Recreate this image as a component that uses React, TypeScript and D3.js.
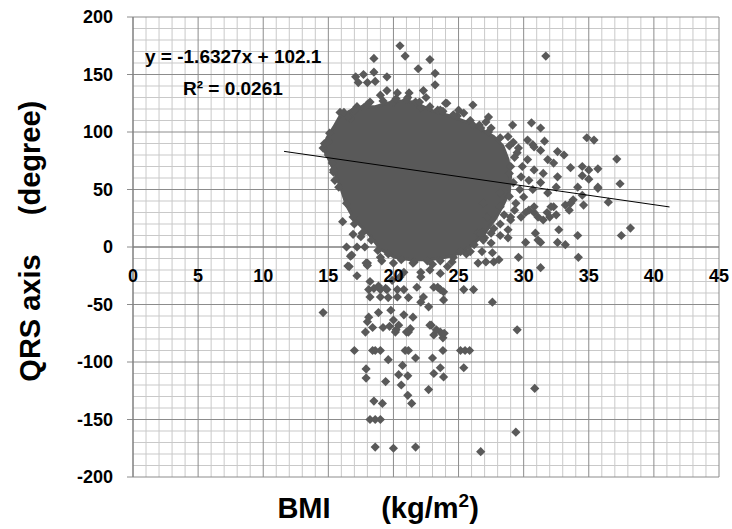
import React from 'react';
import * as d3 from 'd3';

const W = 732;
const H = 529;

const xTicks = [0, 5, 10, 15, 20, 25, 30, 35, 40, 45];
const yTicks = [-200, -150, -100, -50, 0, 50, 100, 150, 200];

const xTitle = 'BMI';
const xUnit = '(kg/m';
const yTitle = 'QRS axis';
const yUnit = '(degree)';
const equationText = 'y = -1.6327x + 102.1';
const r2Text = 'R² = 0.0261';

const trendSlope = -1.6327;
const trendIntercept = 102.1;
const trendRange = [11.6, 41.2];

// Outline of the solid, fully overlapping core of the point cloud [BMI, QRS]
const denseCore: [number, number][] = [
  [14.6, 86], [14.9, 95], [15.4, 104], [15.9, 114], [16.8, 119], [17.6, 122], [18.6, 122],
  [19.5, 125], [20.5, 127], [21.5, 126], [22.3, 122], [23.1, 118], [24.6, 113], [25.8, 108],
  [26.8, 102], [27.7, 96], [28.4, 88], [28.8, 76], [29.0, 62], [28.9, 48], [28.4, 36],
  [27.8, 24], [27.0, 12], [26.2, 3], [25.2, -5], [24.0, -9], [22.8, -11], [21.3, -11],
  [20.1, -9], [19.0, -2], [18.2, 10], [17.0, 24], [16.4, 36], [16.0, 50], [15.6, 62], [15.1, 75],
];

// Individually visible points [BMI, QRS]
const points: [number, number][] = [
  // above the core
  [20.5, 175], [20.9, 166], [18.5, 164], [22.8, 163], [21.9, 155], [18.5, 152], [23.2, 151],
  [17.1, 148], [17.7, 150], [19.5, 148], [18.0, 143], [18.6, 144], [17.3, 143], [23.2, 141],
  [22.3, 136], [19.5, 136], [20.3, 134], [21.2, 134], [22.5, 130], [21.7, 126], [22.1, 121],
  [23.4, 119], [15.9, 117], [16.7, 112], [17.7, 121], [24.0, 125], [23.6, 119], [16.2, 117],
  [16.5, 113], [31.7, 166], [17.2, 122], [19.0, 132], [21.1, 130], [20.0, 126], [18.2, 126],
  [16.9, 118],
  // ragged top edge of the core
  [17.0, 119], [18.0, 124], [19.2, 127], [20.2, 129], [21.0, 128], [22.0, 126], [22.8, 122],
  [23.8, 118], [24.9, 114], [25.9, 110], [26.6, 106], [27.3, 100],
  // left edge
  [14.6, 86], [15.3, 73], [15.4, 65], [15.5, 58], [16.1, 22], [16.9, 26], [16.9, 11],
  [17.5, 9], [16.4, 0], [17.2, 0], [16.8, -7], [17.8, 0], [18.0, -14], [16.5, -16.5],
  [19.0, -9], [15.0, 92], [15.2, 80], [17.6, 12], [17.0, 20], [16.4, 38], [15.8, 52],
  [15.4, 67], [15.0, 80], [18.3, 6], [18.8, -3], [14.7, 90], [15.1, 99],
  // ragged bottom edge of the core
  [19.6, -6], [20.6, -11], [21.6, -13], [22.6, -12], [23.6, -12], [24.6, -9], [25.6, -6],
  [19.1, -12], [20.0, -14], [23.0, -15], [24.5, -13], [26.2, 2], [27.0, 8],
  // below the axis
  [14.6, -57], [16.6, -17], [17.2, -25], [17.9, -14], [18.2, -30], [18.85, -34], [18.1, -37],
  [19.0, -37], [19.5, -37], [20.3, -37], [20.8, -37], [21.8, -35], [18.2, -43.5], [19.0, -43.5],
  [20.3, -43.5], [19.6, -44], [18.85, -57], [18.1, -61], [18.0, -65], [19.8, -55], [20.8, -59],
  [21.5, -61], [20.0, -63.5], [20.4, -68], [18.4, -70], [17.85, -74], [20.15, -74], [21.15, -74],
  [19.2, -70], [17.0, -90], [18.4, -90], [18.6, -90], [19.0, -90], [20.9, -90], [21.15, -90],
  [19.6, -98], [21.7, -96.5], [23.0, -96.5], [23.8, -90], [17.9, -106], [17.9, -114], [19.4, -117],
  [20.7, -103], [20.4, -111], [21.1, -112], [20.6, -120], [21.1, -129], [21.4, -136], [18.5, -134],
  [19.15, -136], [18.2, -150], [18.6, -150], [19.0, -150], [18.6, -174], [20.0, -175], [21.7, -174],
  [22.7, -124], [23.1, -110], [23.6, -105], [23.85, -113], [22.9, -68], [23.6, -74], [23.1, -76.5],
  [23.4, -35], [23.85, -46], [22.7, -52], [22.3, -43.5], [23.85, -39], [25.15, -90], [25.5, -90],
  [25.85, -90], [25.4, -105], [26.7, -178], [29.4, -161], [30.85, -123], [29.5, -72], [27.6, -48],
  [16.7, -8], [18.0, -16], [18.5, -36], [18.85, -35], [19.4, -36], [19.9, -29], [20.8, -22],
  [21.5, -14], [22.1, -22], [22.8, -20], [23.6, -23], [24.15, -17], [22.1, -48], [21.15, -44],
  [23.8, -79], [19.7, -69], [20.2, -72], [21.0, -74], [21.3, -71], [22.8, -68], [23.3, -72],
  [23.9, -75], [20.5, -26], [22.1, -26], [23.1, -35], [23.6, -37], [25.4, -37], [26.15, -37],
  // right of the core
  [26.5, -14], [27.1, -13], [25.9, -4], [25.15, -4], [26.8, -4], [27.6, -5], [27.7, -13],
  [28.1, -11], [29.6, -9], [31.3, -18], [34.2, -9], [26.9, 6], [27.5, 3.5], [28.2, 10],
  [28.8, 8], [30.15, 4], [31.1, 6], [31.3, 4], [32.6, 4], [33.2, 2], [34.15, 10], [32.7, 15],
  [30.9, 12], [26.5, 12], [26.9, 13], [28.8, 15], [29.0, 23.5], [29.8, 26], [30.4, 32],
  [30.8, 30], [31.8, 30], [32.3, 35], [33.2, 36.5], [33.8, 41], [34.5, 45], [34.6, 36.5],
  [36.5, 39], [37.5, 10], [38.2, 16.5], [35.7, 52], [37.4, 55],
  [24.1, 125], [24.6, 115], [25.0, 119], [25.4, 116.5], [26.1, 123.5], [27.3, 113], [27.1, 108.7],
  [27.5, 103.5], [26.1, 106], [26.7, 103.5], [29.15, 106], [30.6, 108], [31.3, 103.5], [28.2, 95],
  [28.8, 96], [29.2, 91], [30.3, 93], [30.7, 89], [31.6, 92], [34.85, 95], [35.4, 93],
  [37.15, 76.5], [33.6, 69], [34.5, 70], [35.0, 67], [35.7, 68], [33.1, 80], [32.6, 83],
  [31.85, 76], [32.3, 73], [31.3, 84], [30.8, 87], [34.5, 62], [35.0, 59], [35.7, 51],
  [34.15, 52], [33.6, 38], [33.5, 32], [32.1, 35], [32.5, 28], [32.0, 26], [30.7, 50],
  [31.3, 56], [31.85, 47], [32.5, 52], [30.8, 67], [31.5, 64], [32.6, 61], [29.5, 82],
  [30.3, 76], [29.0, 70], [29.8, 61], [29.2, 56], [30.0, 43.5], [30.8, 35], [30.15, 30],
  [31.1, 26], [31.5, 23.5], [29.4, 38], [29.0, 26], [28.2, 47], [28.2, 35], [26.9, 38],
  [27.2, 26], [26.7, 12], [27.5, 12],
  [28.9, 88], [29.6, 86], [29.3, 78], [29.9, 70], [28.9, 64], [30.4, 58], [29.7, 50],
  [28.9, 44], [29.3, 32], [28.5, 28], [28.2, 20], [27.7, 16],
];

const MARK = '#595959';
const FONT = '"Liberation Sans", Arial, Helvetica, sans-serif';

export default function App() {
  const x = d3.scaleLinear().domain([0, 45]).range([133, 719]);
  const y = d3.scaleLinear().domain([-200, 200]).range([477, 17]);

  const minorX = d3.range(0, 46, 1).filter((v) => v % 5 !== 0);
  const minorY = d3.range(-200, 201, 10).filter((v) => v % 50 !== 0);

  const coreLine = d3
    .line<[number, number]>()
    .x((d) => x(d[0]))
    .y((d) => y(d[1]))
    .curve(d3.curveLinearClosed);

  const r = 4.6;
  const diamond = `M0,${-r}L${r},0L0,${r}L${-r},0Z`;

  const t0 = trendRange[0];
  const t1 = trendRange[1];

  return (
    <svg
      width={W}
      height={H}
      style={{ position: 'absolute', left: 0, top: 0, background: '#fff' }}
      fontFamily={FONT}
    >
      <rect x={0} y={0} width={W} height={H} fill="#fff" />
      {/* minor grid */}
      <g stroke="#c9c9c9" strokeWidth={1}>
        {minorX.map((v) => (
          <line key={'mx' + v} x1={x(v)} x2={x(v)} y1={y(200)} y2={y(-200)} />
        ))}
        {minorY.map((v) => (
          <line key={'my' + v} x1={x(0)} x2={x(45)} y1={y(v)} y2={y(v)} />
        ))}
      </g>
      {/* major grid */}
      <g stroke="#8c8c8c" strokeWidth={1}>
        {xTicks.map((v) => (
          <line key={'Mx' + v} x1={x(v)} x2={x(v)} y1={y(200)} y2={y(-200)} />
        ))}
        {yTicks.map((v) => (
          <line key={'My' + v} x1={x(0) - 6} x2={x(45)} y1={y(v)} y2={y(v)} />
        ))}
      </g>
      {/* axes */}
      <line x1={x(0)} x2={x(45)} y1={y(0)} y2={y(0)} stroke="#7a7a7a" strokeWidth={1} />
      <line x1={x(0)} x2={x(0)} y1={y(200)} y2={y(-200)} stroke="#7a7a7a" strokeWidth={1} />

      {/* dense core */}
      <path d={coreLine(denseCore) || ''} fill={MARK} stroke={MARK} strokeWidth={3} strokeLinejoin="round" />
      {/* points */}
      <g fill={MARK}>
        {points.map((p, i) => (
          <path key={i} d={diamond} transform={`translate(${x(p[0])},${y(p[1])})`} />
        ))}
      </g>

      {/* trend line */}
      <line
        x1={x(t0)}
        y1={y(trendSlope * t0 + trendIntercept)}
        x2={x(t1)}
        y2={y(trendSlope * t1 + trendIntercept)}
        stroke="#000"
        strokeWidth={1}
      />

      {/* tick labels */}
      <g fontSize={18} fontWeight="bold" fill="#000">
        {yTicks.map((v) => (
          <text key={'yl' + v} x={113} y={y(v)} dy="0.35em" textAnchor="end">
            {v}
          </text>
        ))}
        {xTicks.map((v) => (
          <text key={'xl' + v} x={x(v)} y={282} textAnchor="middle">
            {v}
          </text>
        ))}
      </g>

      {/* equation */}
      <g fontSize={19} fontWeight="bold" fill="#000">
        <text x={145} y={63}>{equationText}</text>
        <text x={183} y={95}>{r2Text}</text>
      </g>

      {/* axis titles */}
      <g fontSize={29} fontWeight="bold" fill="#000">
        <text x={304} y={518} textAnchor="middle">{xTitle}</text>
        <text x={430} y={518} textAnchor="middle">
          {xUnit}
          <tspan dy={-11} fontSize={19}>2</tspan>
          <tspan dy={11}>)</tspan>
        </text>
        <text transform="translate(40,318) rotate(-90)" textAnchor="middle">{yTitle}</text>
        <text transform="translate(40,158) rotate(-90)" textAnchor="middle">{yUnit}</text>
      </g>
    </svg>
  );
}
